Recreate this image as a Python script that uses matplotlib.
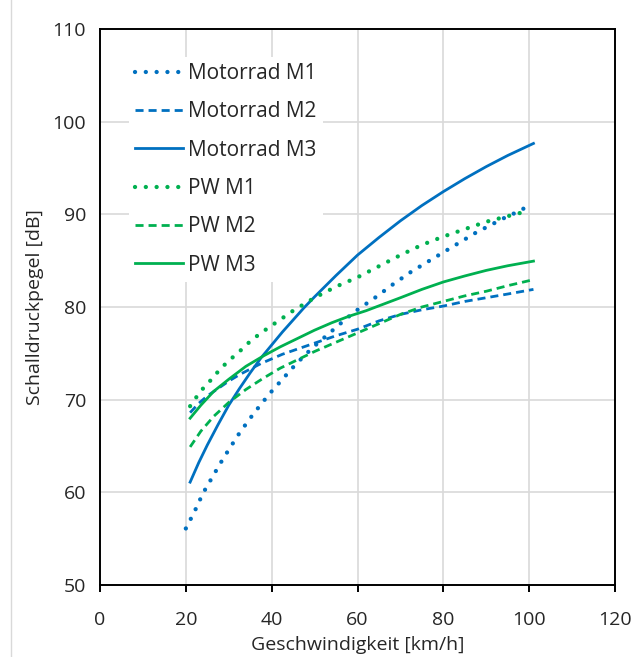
import numpy as np
import matplotlib.pyplot as plt
from matplotlib.lines import Line2D

plt.rcParams['font.family'] = ['Open Sans', 'DejaVu Sans']

# Geschwindigkeit [km/h] / Schalldruckpegel [dB]
v_mot1 = [20, 22, 24, 26, 28, 30, 32.5, 35, 37.5, 40, 42.5, 45, 47.5, 50, 52.5, 55,
          57.5, 60, 62.5, 65, 67.5, 70, 72.5, 75, 77.5, 80, 82.5, 85, 87.5, 90,
          92.5, 95, 97.5, 99]
mot_m1 = [56.1, 57.9, 59.9, 61.5, 63.1, 64.6, 66.4, 68.0, 69.5, 70.9, 72.2, 73.5,
          74.7, 75.8, 76.8, 77.8, 78.8, 79.7, 80.5, 81.3, 82.2, 83.0, 83.8, 84.5,
          85.2, 85.9, 86.6, 87.3, 88.0, 88.6, 89.2, 89.8, 90.3, 90.7]

v_mot2 = [21, 23, 25, 27.5, 30, 32.5, 35, 37.5, 40, 42.5, 45, 47.5, 50, 55, 60,
          65, 70, 75, 80, 85, 90, 95, 101]
mot_m2 = [68.6, 69.6, 70.4, 71.2, 72.0, 72.7, 73.3, 73.9, 74.4, 74.9, 75.3, 75.7,
          76.1, 76.9, 77.6, 78.5, 79.2, 79.7, 80.1, 80.6, 81.0, 81.4, 81.9]

v_mot3 = [21, 23, 25, 27.5, 30, 32.5, 35, 37.5, 40, 42.5, 45, 47.5, 50, 55, 60,
          65, 70, 75, 80, 85, 90, 95, 101]
mot_m3 = [61.1, 63.2, 65.1, 67.3, 69.4, 71.2, 72.9, 74.5, 75.9, 77.3, 78.6, 79.9,
          81.1, 83.4, 85.6, 87.5, 89.3, 90.95, 92.45, 93.85, 95.15, 96.35, 97.65]

v_pw1 = [21, 22.5, 24, 26, 28, 30, 32.5, 35, 37.5, 40, 42.5, 45, 47.5, 50, 52.5,
         55, 57.5, 60, 65, 70, 75, 80, 85, 90, 95, 100]
pw_m1 = [69.3, 70.3, 71.2, 72.2, 73.3, 74.2, 75.2, 76.3, 77.2, 78.0, 78.8, 79.6,
         80.3, 81.0, 81.6, 82.2, 82.7, 83.2, 84.4, 85.6, 86.7, 87.6, 88.4, 89.2,
         89.8, 90.4]

v_pw2 = [21, 23.5, 26.5, 30, 34, 38, 42, 46, 50, 54, 58, 62, 66, 70, 75, 80, 85,
         90, 95, 101]
pw_m2 = [64.9, 66.6, 68.2, 69.7, 71.1, 72.3, 73.4, 74.3, 75.2, 76.0, 76.8, 77.6,
         78.4, 79.2, 80.0, 80.6, 81.2, 81.7, 82.3, 82.95]

v_pw3 = [21, 23.5, 26.5, 30, 34, 38, 42, 46, 50, 54, 58, 62, 66, 70, 75, 80, 85,
         90, 95, 101]
pw_m3 = [68.0, 69.4, 70.9, 72.2, 73.6, 74.7, 75.7, 76.6, 77.5, 78.3, 79.0, 79.6,
         80.3, 81.0, 81.9, 82.7, 83.35, 83.95, 84.45, 84.95]

blue = '#0070C0'
green = '#00B050'
txt = '#262626'
dotted = (0, (0.01, 2.5))
dashed = (0, (2.9, 1.8))

fig = plt.figure(figsize=(6.34, 6.57), dpi=100)
ax = fig.add_axes([100 / 634, 72 / 657, 515 / 634, 556 / 657])

ax.plot(v_mot1, mot_m1, color=blue, lw=3.1, ls=dotted, dash_capstyle='round',
        label='Motorrad M1')
ax.plot(v_mot2, mot_m2, color=blue, lw=2.0, ls=dashed, label='Motorrad M2')
ax.plot(v_mot3, mot_m3, color=blue, lw=2.0, label='Motorrad M3')
ax.plot(v_pw1, pw_m1, color=green, lw=3.1, ls=dotted, dash_capstyle='round',
        label='PW M1')
ax.plot(v_pw2, pw_m2, color=green, lw=2.0, ls=dashed, label='PW M2')
ax.plot(v_pw3, pw_m3, color=green, lw=2.0, label='PW M3')

ax.set_xlim(0, 120)
ax.set_ylim(50, 110)
ax.set_xticks(np.arange(0, 121, 20))
ax.set_yticks(np.arange(50, 111, 10))
ax.grid(True, color='#d9d9d9', lw=1.2)
ax.set_axisbelow(True)
for s in ax.spines.values():
    s.set_color('black')
    s.set_linewidth(1.4)
ax.tick_params(axis='x', direction='out', length=5, width=1.4, labelsize=14,
               pad=14, labelcolor=txt)
ax.tick_params(axis='y', length=0, labelsize=14, pad=10, labelcolor=txt)

ax.set_xlabel('Geschwindigkeit [km/h]', fontsize=14, color=txt, labelpad=5)
ax.set_ylabel('Schalldruckpegel [dB]', fontsize=14, color=txt, labelpad=6)

leg = ax.legend(loc='upper left', bbox_to_anchor=(0.056, 0.950), fontsize=15,
                handlelength=2.3, handletextpad=0.25, labelspacing=0.83,
                frameon=True, facecolor='white', edgecolor='none', framealpha=1,
                borderpad=0.3, borderaxespad=0)
for t in leg.get_texts():
    t.set_color(txt)

# faint chart-area edge on the left
fig.lines.append(Line2D([11 / 634, 11 / 634], [0, 1], transform=fig.transFigure,
                        color='#d9d9d9', lw=1))

fig.savefig('out.png', dpi=100)
